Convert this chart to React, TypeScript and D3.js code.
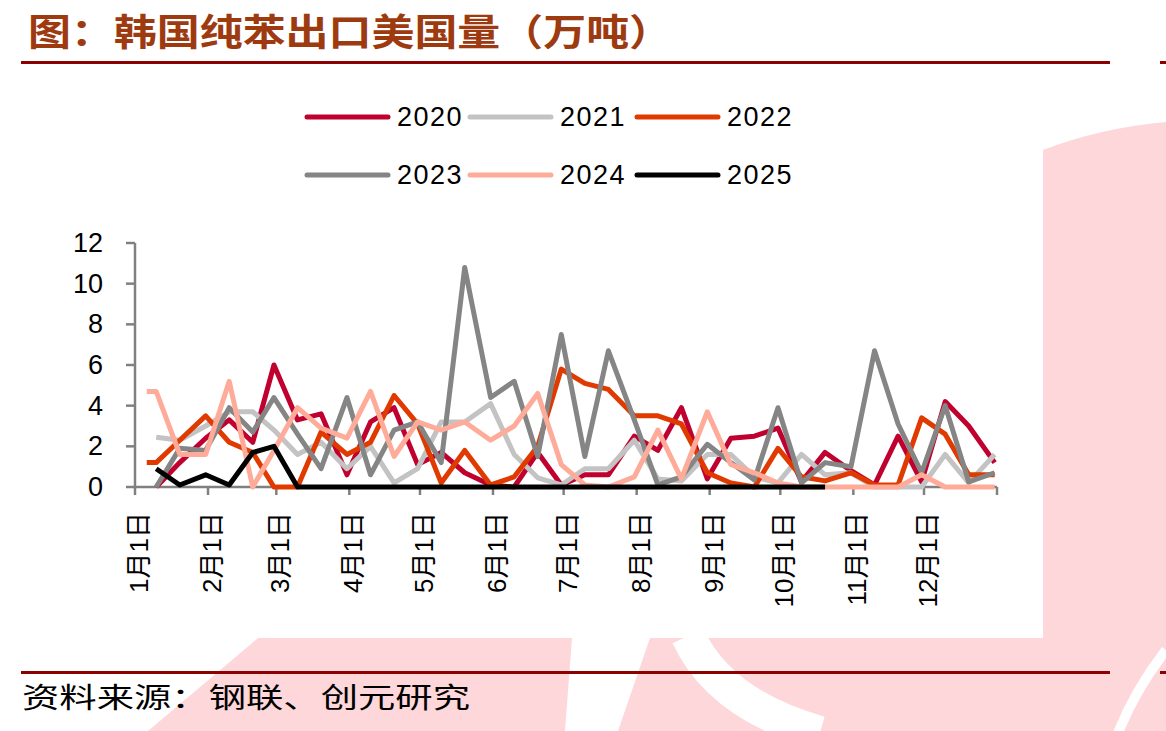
import React from 'react';
import * as d3 from 'd3';

// 旬度数据：每月10日、20日、月末；首个日期仅部分年份有值
const dates = [
  '01-06', '01-10', '01-20', '01-31', '02-10', '02-20', '02-29',
  '03-10', '03-20', '03-31', '04-10', '04-20', '04-30',
  '05-10', '05-20', '05-31', '06-10', '06-20', '06-30',
  '07-10', '07-20', '07-31', '08-10', '08-20', '08-31',
  '09-10', '09-20', '09-30', '10-10', '10-20', '10-31',
  '11-10', '11-20', '11-30', '12-10', '12-20', '12-31',
];

const years = ['2020', '2021', '2022', '2023', '2024', '2025'];
const colors = ['#C0002F', '#C3C3C3', '#E03A00', '#858585', '#FFAB9A', '#000000'];

const v2020 = [null, 0, 1.2, 2.4, 3.3, 2.2, 6.0, 3.3, 3.6, 0.6, 3.2, 3.9, 1.1, 1.7, 0.7, 0.1, 0, 1.7, 0.1, 0.6, 0.6, 2.5, 1.8, 3.9, 0.4, 2.4, 2.5, 2.9, 0.25, 1.7, 0.8, 0.1, 2.5, 0.25, 4.2, 3.0, 1.2];
const v2021 = [null, 2.45, 2.3, 3.0, 3.7, 3.7, 2.8, 1.6, 2.2, 0.9, 2.0, 0.2, 0.9, 3.2, 3.2, 4.1, 1.6, 0.45, 0.1, 0.9, 0.9, 2.3, 0.4, 0.3, 1.6, 1.6, 0.5, 0.2, 1.6, 0.6, 0.7, 0, 0, 0, 1.6, 0.2, 1.6];
const v2022 = [1.2, 1.2, 2.3, 3.5, 2.2, 1.7, 0, 0, 2.7, 1.6, 2.2, 4.5, 3.1, 0.2, 1.8, 0.1, 0.5, 2.0, 5.8, 5.1, 4.8, 3.5, 3.5, 3.1, 0.7, 0.2, 0, 1.9, 0.5, 0.3, 0.7, 0.1, 0.1, 3.4, 2.6, 0.6, 0.6];
const v2023 = [null, 0, 1.9, 1.8, 3.9, 2.7, 4.4, 2.6, 0.9, 4.4, 0.6, 2.8, 3.2, 1.2, 10.8, 4.4, 5.2, 1.5, 7.5, 1.5, 6.7, 3.3, 0.1, 0.5, 2.1, 1.2, 0.35, 3.9, 0.2, 1.2, 1.0, 6.7, 3.1, 0.7, 4.0, 0.25, 0.7];
const v2024 = [4.7, 4.7, 1.6, 1.6, 5.2, 0, 1.8, 3.9, 2.9, 2.4, 4.7, 1.5, 3.2, 2.8, 3.2, 2.3, 3.0, 4.6, 1.1, 0.1, 0, 0.5, 2.8, 0.4, 3.7, 1.1, 0.7, 0.2, 0, 0, 0, 0, 0, 0.6, 0, 0, 0];
const v2025 = [null, 0.9, 0.1, 0.6, 0.1, 1.7, 2.0, 0, 0, 0, 0, 0, 0, 0, 0, 0, 0, 0, 0, 0, 0, 0, 0, 0, 0, 0, 0, 0, 0, 0];

const seriesValues = [v2020, v2021, v2022, v2023, v2024, v2025];

const yTicks = [0, 2, 4, 6, 8, 10, 12];
const monthLabels = ['1月1日', '2月1日', '3月1日', '4月1日', '5月1日', '6月1日', '7月1日', '8月1日', '9月1日', '10月1日', '11月1日', '12月1日'];

const title = '图：韩国纯苯出口美国量（万吨）';
const source = '资料来源：钢联、创元研究';

const parse = (s: string) => {
  const [m, d] = s.split('-').map(Number);
  return new Date(2020, m - 1, d);
};

export default function App() {
  const x = d3.scaleTime()
    .domain([new Date(2020, 0, 1), new Date(2021, 0, 1)])
    .range([135, 997]);
  const y = d3.scaleLinear().domain([0, 12]).range([487, 243]);

  const monthTicks = x.ticks(d3.timeMonth.every(1));

  const line = d3.line<{ date: Date; v: number | null }>()
    .defined(d => d.v != null)
    .x(d => x(d.date))
    .y(d => y(d.v as number));

  const series = years.map((yr, i) => ({
    year: yr,
    color: colors[i],
    points: dates.map((dt, j) => ({ date: parse(dt), v: j < seriesValues[i].length ? seriesValues[i][j] : null })),
  }));

  const font = '"Liberation Sans", Arial, "Noto Sans CJK SC", sans-serif';
  const cjk = '"Noto Sans CJK SC", sans-serif';
  const axisColor = '#808080';
  const pink = '#FDD7DA';

  const legendCols = [307, 470, 637];
  const legendRows = [117, 175];

  return (
    <svg width={1166} height={731} style={{ position: 'absolute', left: 0, top: 0, background: '#fff' }}>
      {/* 水印 */}
      <g fill={pink}>
        <path d="M1043,150 Q1100,128 1166,122 L1166,640 L1043,640 Z" />
        <path d="M148,731 L258,638 L572,638 L565,731 Z" />
        <path d="M650,638 L1166,638 L1166,731 L618,731 Z" />
      </g>
      <path d="M688,636 Q720,705 820,733" fill="none" stroke="#fff" strokeWidth={34} />
      <path d="M1166,650 Q1135,690 1118,733" fill="none" stroke="#fff" strokeWidth={10} />
      <rect x={0} y={70} width={1043} height={568} fill="#fff" />

      {/* 标题 */}
      <text x={28} y={46} fontFamily={cjk} fontWeight={700} fontSize={37} fill="#9E3A10"
        textLength={644} lengthAdjust="spacingAndGlyphs">{title}</text>
      <rect x={21} y={61} width={1089} height={3} fill="#8B0000" />
      <rect x={1160} y={61} width={6} height={3} fill="#8B0000" />

      {/* 图例 */}
      {series.map((s, i) => {
        const lx = legendCols[i % 3];
        const ly = legendRows[Math.floor(i / 3)];
        return (
          <g key={s.year}>
            <line x1={lx} x2={lx + 81} y1={ly} y2={ly} stroke={s.color} strokeWidth={5} strokeLinecap="round" />
            <text x={lx + 90} y={ly} dominantBaseline="central" fontFamily={font} fontSize={27}
              letterSpacing={1.5} fill="#000">{s.year}</text>
          </g>
        );
      })}

      {/* Y轴 */}
      <line x1={135} x2={135} y1={y(12)} y2={y(0)} stroke={axisColor} strokeWidth={2.5} />
      {yTicks.map(t => (
        <g key={t}>
          <line x1={126} x2={135} y1={y(t)} y2={y(t)} stroke={axisColor} strokeWidth={2.5} />
          <text x={103} y={y(t)} textAnchor="end" dominantBaseline="central" fontFamily={font}
            fontSize={27} fill="#000">{t}</text>
        </g>
      ))}

      {/* X轴 */}
      <line x1={135} x2={997} y1={y(0)} y2={y(0)} stroke={axisColor} strokeWidth={2.5} />
      {monthTicks.map((t, i) => (
        <line key={i} x1={x(t)} x2={x(t)} y1={y(0)} y2={y(0) + 8} stroke={axisColor} strokeWidth={2.5} />
      ))}
      {monthLabels.map((lab, i) => {
        const tx = x(monthTicks[i]) + 4;
        return (
          <text key={lab} transform={`translate(${tx},512) rotate(-90)`} textAnchor="end"
            dominantBaseline="central" fontFamily={font} fontSize={26} fill="#000">{lab}</text>
        );
      })}

      {/* 折线 */}
      {series.map(s => (
        <path key={s.year} d={line(s.points) || ''} fill="none" stroke={s.color} strokeWidth={5}
          strokeLinejoin="round" strokeLinecap="butt" />
      ))}

      {/* 来源 */}
      <rect x={21} y={671} width={1089} height={3} fill="#8B0000" />
      <rect x={1160} y={671} width={6} height={3} fill="#8B0000" />
      <text x={22} y={708} fontFamily={cjk} fontSize={28} fill="#000"
        textLength={448} lengthAdjust="spacingAndGlyphs">{source}</text>
    </svg>
  );
}
